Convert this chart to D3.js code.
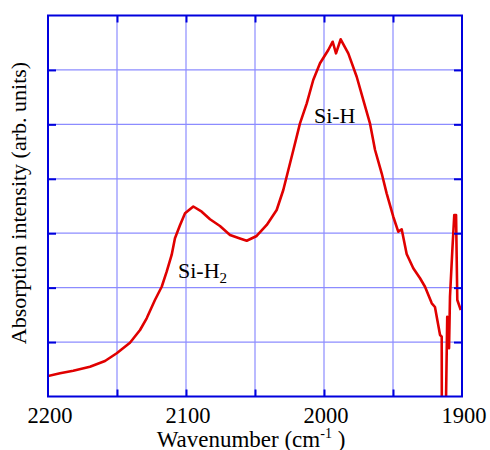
<!DOCTYPE html>
<html>
<head>
<meta charset="utf-8">
<script src="https://cdn.jsdelivr.net/npm/d3@7"></script>
<style>
  body { margin: 0; background: #fff; }
  svg text { font-family: "Liberation Serif", "Times New Roman", Times, serif; fill: #000; }
</style>
</head>
<body>
<div id="chart"></div>
<script>
// spectrum: wavenumber (cm-1) and absorption (arb. units)
var wavenumber = [2200, 2191.3, 2181.7, 2169.6, 2158.7, 2150.2, 2140.6, 2133.3, 2128.5, 2122.5,
    2117.6, 2114.0, 2110.4, 2108.0, 2104.3, 2100.7, 2094.7, 2088.6, 2082.6, 2075.4,
    2068.1, 2060.9, 2056.0, 2048.8, 2041.5, 2034.3, 2029.5, 2022.2, 2017.4, 2012.5,
    2007.8, 2002.9, 1996.9, 1993.7, 1991.3, 1987.9, 1982.4, 1976.3, 1971.5, 1966.7,
    1963.0, 1958.2, 1954.6, 1949.8, 1946.2, 1943.7, 1940.1, 1935.3, 1930.4, 1926.8,
    1921.9, 1919.6, 1915.9, 1914.7, 1914.6, 1911.9, 1910.7, 1909.4, 1908.7, 1907.0,
    1905.6, 1904.3, 1903.4, 1900.9];
var absorption = [0.377, 0.426, 0.474, 0.547, 0.652, 0.794, 0.988, 1.222, 1.437, 1.773,
    2.017, 2.293, 2.600, 2.906, 3.151, 3.366, 3.491, 3.395, 3.256, 3.132,
    2.967, 2.903, 2.862, 2.949, 3.151, 3.426, 3.794, 4.529, 5.019, 5.387,
    5.815, 6.122, 6.366, 6.518, 6.305, 6.563, 6.305, 5.875, 5.447, 5.019,
    4.529, 4.101, 3.733, 3.303, 3.028, 3.072, 2.618, 2.355, 2.172, 2.017,
    1.712, 1.644, 1.130, 1.099, -0.6, -0.6, 1.466, 0.886, 1.834, 2.692,
    3.335, 3.335, 1.773, 1.589];

var xTicks = [2200, 2150, 2100, 2050, 2000, 1950, 1900];
var xTickLabels = [2200, 2100, 2000, 1900];
var yTicks = [0, 1, 2, 3, 4, 5, 6, 7];

// peak annotations
var peakLabels = [
    {'x': 2105.8, 'y': 2.17, 'main': 'Si-H', 'sub': '2'},
    {'x': 2007.3, 'y': 5.02, 'main': 'Si-H', 'sub': ''}
];

var svgWidth = 490, svgHeight = 450;
var margin = { top: 15.5, right: 28, bottom: 53.5, left: 48 };
var width = svgWidth - margin.left - margin.right;
var height = svgHeight - margin.top - margin.bottom;

var svg = d3.select("#chart").append("svg")
    .attr("width", svgWidth).attr("height", svgHeight);
var g = svg.append("g").attr("transform", `translate(${margin.left}, ${margin.top})`);

var x = d3.scaleLinear().domain([2200, 1900]).range([0, width]);
var y = d3.scaleLinear().domain([0, 7]).range([height, 0]);

// grid
g.append("g").selectAll("line").data(xTicks.slice(1, -1)).enter().append("line")
    .attr("x1", d => x(d)).attr("x2", d => x(d))
    .attr("y1", 0).attr("y2", height)
    .attr("stroke", "#8c8cff").attr("stroke-width", 1.2);
g.append("g").selectAll("line").data(yTicks.slice(1, -1)).enter().append("line")
    .attr("y1", d => y(d)).attr("y2", d => y(d))
    .attr("x1", 0).attr("x2", width)
    .attr("stroke", "#8c8cff").attr("stroke-width", 1.2);

// curve
svg.append("clipPath").attr("id", "plotclip").append("rect")
    .attr("x", 0).attr("y", 0).attr("width", width).attr("height", height);
var pts = wavenumber.map((w, i) => [w, absorption[i]]);
var line = d3.line().x(d => x(d[0])).y(d => y(d[1]));
g.append("path").datum(pts)
    .attr("clip-path", "url(#plotclip)")
    .attr("d", line)
    .attr("fill", "none")
    .attr("stroke", "#e00000")
    .attr("stroke-width", 2.6)
    .attr("stroke-linejoin", "round");

// inward ticks on all four sides
var tickColor = "#0000dd";
function styleAxis(sel) {
    sel.select(".domain").remove();
    sel.selectAll(".tick line").attr("stroke", tickColor).attr("stroke-width", 2);
}
g.append("g").attr("transform", `translate(0, ${height})`)
    .call(d3.axisBottom(x).tickValues(xTicks.slice(1, -1)).tickSize(-7).tickFormat(""))
    .call(styleAxis);
g.append("g")
    .call(d3.axisTop(x).tickValues(xTicks.slice(1, -1)).tickSize(-7).tickFormat(""))
    .call(styleAxis);
g.append("g")
    .call(d3.axisLeft(y).tickValues(yTicks.slice(1, -1)).tickSize(-8).tickFormat(""))
    .call(styleAxis);
g.append("g").attr("transform", `translate(${width}, 0)`)
    .call(d3.axisRight(y).tickValues(yTicks.slice(1, -1)).tickSize(-8).tickFormat(""))
    .call(styleAxis);

// frame
g.append("rect").attr("x", 0).attr("y", 0).attr("width", width).attr("height", height)
    .attr("fill", "none").attr("stroke", tickColor).attr("stroke-width", 2);

// tick labels
g.append("g").selectAll("text").data(xTickLabels).enter().append("text")
    .attr("x", d => x(d) + 2)
    .attr("y", height + 26)
    .attr("text-anchor", "middle")
    .attr("font-size", 22.5)
    .text(d => d);

// axis titles
var xt = g.append("text")
    .attr("x", width / 2 - 4)
    .attr("y", height + 50)
    .attr("text-anchor", "middle")
    .attr("font-size", 23);
xt.append("tspan").text("Wavenumber (cm");
xt.append("tspan").attr("font-size", 14).attr("dy", -9).text("-1");
xt.append("tspan").attr("dy", 9).text(" )");

g.append("text")
    .attr("transform", `translate(-22, ${height / 2 - 3}) rotate(-90)`)
    .attr("text-anchor", "middle")
    .attr("font-size", 22)
    .text("Absorption intensity (arb. units)");

// peak labels
peakLabels.forEach(function(p) {
    var t = g.append("text")
        .attr("x", x(p.x)).attr("y", y(p.y))
        .attr("font-size", 22);
    t.append("tspan").text(p.main);
    if (p.sub) t.append("tspan").attr("font-size", 15).attr("dy", 5).text(p.sub);
});
</script>
</body>
</html>
